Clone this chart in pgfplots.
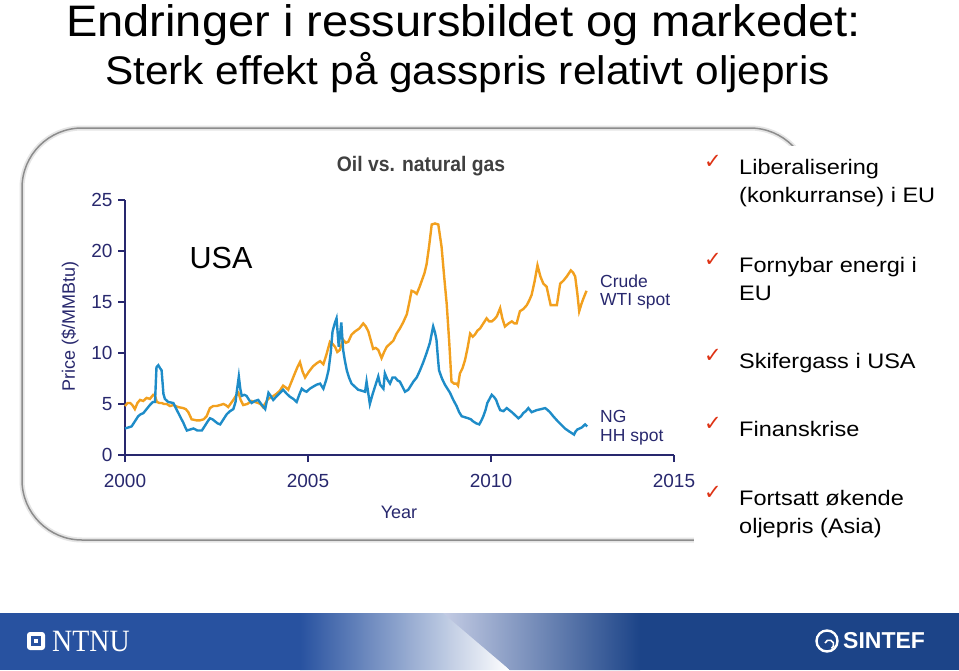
\documentclass[border=0pt]{standalone}
\usepackage{pgfplots}
\pgfplotsset{compat=1.18}
\usepackage{graphicx}
\usepackage{fontspec}
\setmainfont{Liberation Sans}
\newfontfamily\serifnt{Liberation Serif}
\newfontfamily\dejavu{DejaVu Sans}
\definecolor{oilorange}{RGB}{242,160,30}
\definecolor{gasblue}{RGB}{30,140,200}
\definecolor{navy}{RGB}{40,40,110}
\definecolor{checkred}{RGB}{222,50,20}
\definecolor{titlegray}{RGB}{64,64,64}
\definecolor{footblue}{RGB}{40,82,160}
\definecolor{footblueR}{RGB}{28,68,136}
\definecolor{footlight}{RGB}{196,204,228}
\begin{document}
\begin{tikzpicture}[x=1pt,y=-1pt]
\path[use as bounding box, fill=white] (0,0) rectangle (959,670);
% titles
\node[anchor=base, inner sep=0] at (463.5,36) {\scalebox{1.12}[1.05]{\fontsize{42}{48}\selectfont Endringer i ressursbildet og markedet:}};
\node[anchor=base, inner sep=0] at (467.5,84) {\scalebox{1.115}[1.05]{\fontsize{38}{44}\selectfont Sterk effekt på gasspris relativt oljepris}};
% frame
\draw[line width=5pt, black!10, rounded corners=60pt] (22,128) rectangle (810,540);
\draw[line width=1.5pt, black!45, rounded corners=60pt] (22,128) rectangle (810,540);
\fill[white] (694,146) rectangle (959,600);
% chart
\begin{axis}[
  at={(125pt,-455pt)}, anchor=south west,
  width=549pt, height=255pt, scale only axis,
  xmin=2000, xmax=2015, ymin=0, ymax=25,
  axis lines=left,
  axis line style={-, draw=navy, line width=1.4pt},
  every outer x axis line/.append style={-},
  every outer y axis line/.append style={-},
  xtick={2000,2005,2010,2015}, ytick={0,5,10,15,20,25},
  tick align=outside, major tick length=7pt,
  tick style={draw=navy, line width=1.2pt},
  /pgf/number format/assume math mode=true,
  ticklabel style={font=\fontsize{19}{21}\selectfont, text=navy},
  xticklabel style={/pgf/number format/1000 sep={}, yshift=-9pt},
  yticklabel style={xshift=-2pt},
  clip=false,
]
\addplot[oilorange, line width=2.4pt] coordinates {
(2000.00,4.8)(2000.07,5.1)(2000.14,5.1)(2000.20,4.9)(2000.27,4.5)(2000.34,5.1)(2000.41,5.4)(2000.50,5.3)
(2000.59,5.6)(2000.68,5.5)(2000.77,5.9)(2000.82,5.8)(2000.87,5.2)(2000.94,5.1)(2001.00,5.1)(2001.07,5.0)
(2001.14,5.0)(2001.23,4.8)(2001.32,4.9)(2001.45,4.7)(2001.59,4.6)(2001.66,4.5)(2001.73,4.2)(2001.82,3.5)
(2001.95,3.4)(2002.05,3.4)(2002.15,3.5)(2002.23,3.8)(2002.32,4.6)(2002.41,4.8)(2002.50,4.8)(2002.60,4.9)
(2002.69,5.0)(2002.75,4.9)(2002.82,4.7)(2002.90,5.1)(2002.96,5.4)(2003.03,5.8)(2003.10,6.1)(2003.16,5.4)
(2003.23,4.9)(2003.34,5.0)(2003.46,5.3)(2003.55,5.2)(2003.64,5.1)(2003.70,5.0)(2003.77,4.7)(2003.84,5.1)
(2003.91,5.5)(2004.02,5.7)(2004.14,6.0)(2004.23,6.3)(2004.32,6.8)(2004.40,6.6)(2004.46,6.4)(2004.55,7.2)
(2004.64,8.0)(2004.71,8.6)(2004.78,9.1)(2004.85,8.2)(2004.92,7.6)(2005.03,8.2)(2005.14,8.7)(2005.24,9.0)
(2005.33,9.2)(2005.42,8.9)(2005.50,9.8)(2005.60,11.1)(2005.67,10.9)(2005.74,10.6)(2005.80,10.1)(2005.87,10.3)
(2005.96,11.3)(2006.03,11.0)(2006.10,11.1)(2006.19,11.8)(2006.28,12.1)(2006.40,12.4)(2006.51,12.9)(2006.58,12.6)
(2006.65,12.1)(2006.72,11.2)(2006.78,10.4)(2006.85,10.5)(2006.92,10.3)(2007.01,9.5)(2007.08,10.1)(2007.15,10.6)
(2007.24,10.9)(2007.33,11.2)(2007.42,11.9)(2007.51,12.4)(2007.60,13.0)(2007.70,13.8)(2007.77,15.0)(2007.83,16.1)
(2007.90,16.0)(2007.97,15.8)(2008.04,16.4)(2008.11,17.1)(2008.18,17.8)(2008.24,18.7)(2008.31,20.5)(2008.38,22.6)
(2008.47,22.7)(2008.56,22.6)(2008.65,20.4)(2008.72,17.5)(2008.79,14.8)(2008.86,11.0)(2008.92,7.2)(2008.99,7.0)
(2009.06,7.0)(2009.10,6.8)(2009.15,8.0)(2009.22,8.5)(2009.29,9.3)(2009.36,10.5)(2009.43,11.9)(2009.50,11.6)
(2009.56,11.8)(2009.63,12.2)(2009.70,12.4)(2009.79,12.9)(2009.88,13.4)(2009.95,13.1)(2010.02,13.1)(2010.09,13.3)
(2010.16,13.6)(2010.25,14.4)(2010.31,13.4)(2010.38,12.6)(2010.48,12.9)(2010.57,13.1)(2010.64,12.9)(2010.70,12.9)
(2010.79,14.1)(2010.88,14.3)(2010.98,14.7)(2011.05,15.2)(2011.11,15.7)(2011.19,17.0)(2011.27,18.6)(2011.35,17.5)
(2011.43,16.8)(2011.52,16.5)(2011.58,15.5)(2011.63,14.7)(2011.72,14.7)(2011.80,14.7)(2011.89,16.8)(2011.98,17.1)
(2012.07,17.5)(2012.18,18.1)(2012.24,17.9)(2012.30,17.5)(2012.36,15.8)(2012.41,14.1)(2012.47,14.8)(2012.52,15.3)
(2012.61,16.1)
};
\addplot[gasblue, line width=2.4pt] coordinates {
(2000.00,2.6)(2000.09,2.7)(2000.18,2.8)(2000.27,3.3)(2000.36,3.8)(2000.43,4.0)(2000.50,4.1)(2000.59,4.5)
(2000.68,4.9)(2000.76,5.2)(2000.82,5.2)(2000.86,8.6)(2000.91,8.8)(2000.96,8.5)(2001.00,8.3)(2001.05,6.0)
(2001.09,5.5)(2001.18,5.2)(2001.32,5.1)(2001.39,4.6)(2001.46,4.1)(2001.53,3.6)(2001.59,3.2)(2001.65,2.7)
(2001.69,2.4)(2001.78,2.5)(2001.87,2.6)(2001.98,2.4)(2002.10,2.4)(2002.19,2.9)(2002.26,3.3)(2002.32,3.6)
(2002.39,3.5)(2002.46,3.3)(2002.53,3.1)(2002.60,3.0)(2002.69,3.5)(2002.78,4.0)(2002.87,4.3)(2002.96,4.5)
(2003.02,5.2)(2003.05,6.1)(2003.11,7.7)(2003.15,6.5)(2003.19,5.8)(2003.26,5.9)(2003.32,5.8)(2003.39,5.4)
(2003.46,5.1)(2003.55,5.3)(2003.64,5.4)(2003.74,4.9)(2003.83,4.5)(2003.92,6.1)(2003.98,5.8)(2004.05,5.4)
(2004.18,5.9)(2004.32,6.4)(2004.42,6.0)(2004.51,5.7)(2004.60,5.5)(2004.69,5.2)(2004.76,5.9)(2004.83,6.5)
(2004.90,6.3)(2004.96,6.2)(2005.05,6.5)(2005.14,6.7)(2005.24,6.9)(2005.33,7.0)(2005.42,6.5)(2005.50,7.4)
(2005.56,8.3)(2005.62,10.0)(2005.67,12.1)(2005.73,12.9)(2005.78,13.4)(2005.84,10.6)(2005.91,13.0)(2005.96,10.3)
(2006.01,9.2)(2006.06,8.3)(2006.12,7.6)(2006.19,7.0)(2006.28,6.7)(2006.37,6.4)(2006.47,6.3)(2006.56,6.2)
(2006.60,7.2)(2006.69,5.0)(2006.76,5.9)(2006.83,6.7)(2006.92,7.7)(2006.97,6.9)(2007.06,6.5)(2007.10,8.0)
(2007.17,7.4)(2007.24,7.0)(2007.31,7.6)(2007.38,7.6)(2007.45,7.3)(2007.51,7.2)(2007.58,6.7)(2007.65,6.2)
(2007.74,6.4)(2007.81,6.8)(2007.88,7.2)(2007.97,7.6)(2008.06,8.3)(2008.15,9.1)(2008.24,10.0)(2008.33,11.0)
(2008.42,12.6)(2008.47,12.0)(2008.51,11.3)(2008.55,9.5)(2008.58,8.3)(2008.66,7.5)(2008.74,6.9)(2008.81,6.5)
(2008.88,6.1)(2008.97,5.4)(2009.06,4.8)(2009.13,4.2)(2009.20,3.8)(2009.29,3.7)(2009.38,3.6)(2009.45,3.5)
(2009.51,3.3)(2009.60,3.1)(2009.68,3.0)(2009.74,3.4)(2009.79,3.8)(2009.85,4.4)(2009.90,5.1)(2009.96,5.5)
(2010.02,5.9)(2010.08,5.7)(2010.14,5.4)(2010.19,4.9)(2010.25,4.4)(2010.34,4.3)(2010.43,4.6)(2010.50,4.4)
(2010.57,4.2)(2010.66,3.9)(2010.75,3.6)(2010.82,3.8)(2010.88,4.1)(2010.95,4.3)(2011.02,4.6)(2011.11,4.2)
(2011.18,4.3)(2011.25,4.4)(2011.37,4.5)(2011.48,4.6)(2011.55,4.4)(2011.61,4.2)(2011.70,3.8)(2011.80,3.4)
(2011.91,3.0)(2012.02,2.6)(2012.14,2.3)(2012.27,2.0)(2012.31,2.3)(2012.36,2.5)(2012.42,2.6)(2012.48,2.7)
(2012.57,3.0)(2012.63,2.8)
};
\end{axis}
% chart texts
\node[text=titlegray, inner sep=0] at (421,166) {\scalebox{0.92}[1]{\bfseries\fontsize{21}{24}\selectfont Oil vs. natural gas}};
\node[text=navy, rotate=90, inner sep=0, font=\fontsize{18}{20}\selectfont] at (70,326) {Price (\$/MMBtu)};
\node[text=navy, inner sep=0, font=\fontsize{18}{20}\selectfont] at (399,512) {Year};
\node[inner sep=0, font=\fontsize{30.5}{34}\selectfont] at (221,258) {USA};
\node[text=navy, anchor=west, inner sep=0, font=\fontsize{17.5}{20}\selectfont] at (600,281) {Crude};
\node[text=navy, anchor=west, inner sep=0, font=\fontsize{17.5}{20}\selectfont] at (600,301) {WTI spot};
\node[text=navy, anchor=west, inner sep=0, font=\fontsize{17.5}{20}\selectfont] at (600,416) {NG};
\node[text=navy, anchor=west, inner sep=0, font=\fontsize{17.5}{20}\selectfont] at (600,437) {HH spot};
% bullets
\foreach \yy in {162,260,356,424,493} {
  \node[text=checkred, inner sep=0, font=\dejavu\fontsize{21}{21}\selectfont] at (713,\yy) {✓};
}
\foreach \yy/\tx in {174/Liberalisering, 202/(konkurranse) i EU, 272/Fornybar energi i, 300/EU, 368/Skifergass i USA, 436/Finanskrise, 505/Fortsatt økende, 533/oljepris (Asia)} {
  \node[anchor=base west, inner sep=0] at (739,\yy) {\scalebox{1.12}[1]{\fontsize{21}{24}\selectfont \tx}};
}
% footer
\fill[footblue] (0,613) rectangle (480,670);
\fill[footblueR] (470,613) rectangle (959,670);
\shade[left color=footblue, right color=white] (300,613) -- (450,613) -- (510,670) -- (300,670) -- cycle;
\shade[left color=footlight, right color=footblueR] (443,613) -- (640,613) -- (640,670) -- (510,670) -- cycle;
\fill[white, rounded corners=3pt] (27,632) rectangle (45,650);
\fill[footblue] (31,636) rectangle (41,646);
\fill[white] (34,639) rectangle (38,643);
\node[anchor=west, text=white, inner sep=0] at (52,641) {\scalebox{0.9}[1]{\serifnt\fontsize{31}{31}\selectfont NTNU}};
\draw[white, line width=2.4pt] (827,641) circle (10.5);
\draw[white, line width=1.6pt] (825,643) arc (200:420:4.5);
\node[anchor=west, text=white, inner sep=0] at (843,641) {\bfseries\fontsize{23}{23}\selectfont SINTEF};
\end{tikzpicture}
\end{document}
